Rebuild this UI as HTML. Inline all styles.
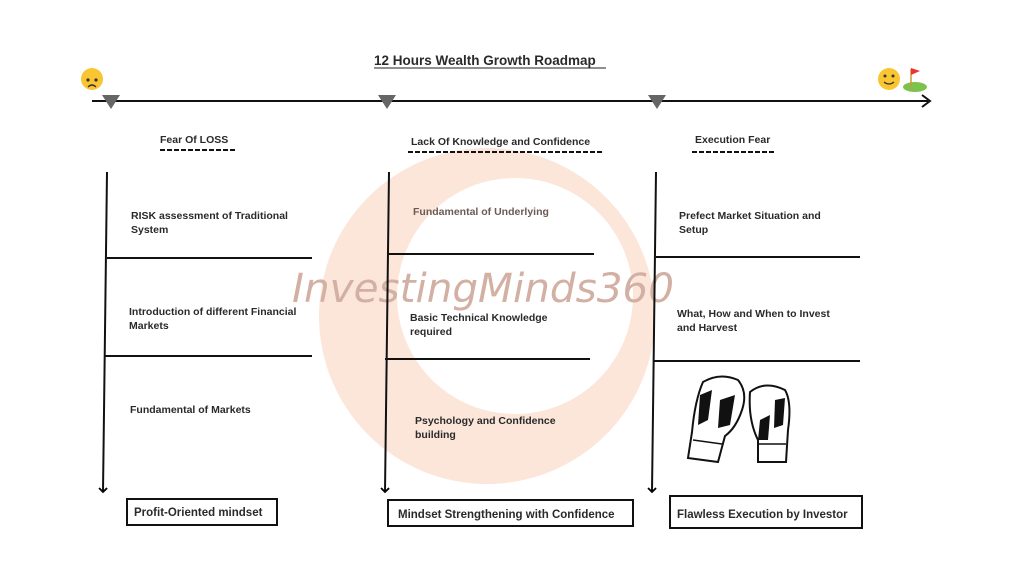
<!DOCTYPE html>
<html><head><meta charset="utf-8"><style>
body{margin:0;background:#fff;}
svg text{font-family:"Liberation Sans","DejaVu Sans",sans-serif;font-weight:bold;fill:#2a2a2a;font-size:10.5px;}
</style></head><body>
<svg width="1024" height="576" viewBox="0 0 1024 576" xmlns="http://www.w3.org/2000/svg">
<defs><marker id="ah" markerWidth="10" markerHeight="10" refX="5" refY="5" orient="auto" markerUnits="userSpaceOnUse"><path d="M1,1 L5,5 L1,9" fill="none" stroke="#000" stroke-width="1.8"/></marker></defs>
<!-- watermark -->
<circle cx="487" cy="316" r="168" fill="#fbe6d9"/>
<circle cx="515" cy="296" r="118" fill="#fff"/>
<text x="292" y="302" textLength="382" lengthAdjust="spacingAndGlyphs" style="font-family:'DejaVu Sans',sans-serif;font-style:italic;font-weight:normal;font-size:40px;fill:#d2b0a3">InvestingMinds360</text>
<!-- title -->
<text x="374" y="65" style="font-size:13.5px">12 Hours Wealth Growth Roadmap</text>
<line x1="374" y1="68" x2="606" y2="68" stroke="#222" stroke-width="1"/>
<!-- timeline -->
<line x1="92" y1="101" x2="928" y2="101" stroke="#111" stroke-width="2"/>
<path d="M922,95 L930,101 L922,107" fill="none" stroke="#111" stroke-width="2"/>
<path d="M102,95 L120,95 L111,109Z" fill="#666"/>
<path d="M378,95 L396,95 L387,109Z" fill="#666"/>
<path d="M648,95 L666,95 L657,109Z" fill="#666"/>
<!-- emojis -->
<circle cx="92" cy="79" r="11" fill="#f9c531"/>
<circle cx="88" cy="80" r="1.6" fill="#333"/><circle cx="96" cy="80" r="1.6" fill="#333"/>
<path d="M88,87 Q92,83 96,87" fill="none" stroke="#333" stroke-width="1.3"/>
<circle cx="889" cy="79" r="11" fill="#f9c531"/>
<circle cx="885" cy="76" r="1.5" fill="#333"/><circle cx="893" cy="76" r="1.5" fill="#333"/>
<path d="M884,82 Q889,86 894,82" fill="none" stroke="#333" stroke-width="1.3"/>
<ellipse cx="915" cy="87" rx="12" ry="5" fill="#7cc24d"/>
<line x1="911" y1="69" x2="911" y2="87" stroke="#c89a3a" stroke-width="1.5"/>
<path d="M911,68 L920,71 L911,75Z" fill="#e33"/>
<!-- headings -->
<text x="160" y="143">Fear Of LOSS</text>
<line x1="160" y1="150" x2="235" y2="150" stroke="#111" stroke-width="2" stroke-dasharray="5,2"/>
<text x="411" y="145">Lack Of Knowledge and Confidence</text>
<line x1="408" y1="152" x2="602" y2="152" stroke="#111" stroke-width="2" stroke-dasharray="5,2"/>
<text x="695" y="143">Execution Fear</text>
<line x1="692" y1="152" x2="775" y2="152" stroke="#111" stroke-width="2" stroke-dasharray="5,2"/>
<!-- column 1 -->
<line x1="107" y1="172" x2="103" y2="492" stroke="#111" stroke-width="2" marker-end="url(#ah)"/>
<line x1="107" y1="258" x2="312" y2="258" stroke="#111" stroke-width="2"/>
<line x1="105" y1="356" x2="312" y2="356" stroke="#111" stroke-width="2"/>
<text x="131" y="219">RISK assessment of Traditional</text>
<text x="131" y="233">System</text>
<text x="129" y="315">Introduction of different Financial</text>
<text x="129" y="329">Markets</text>
<text x="130" y="413">Fundamental of Markets</text>
<rect x="127" y="499" width="150" height="26" fill="#fff" stroke="#111" stroke-width="2"/>
<text x="134" y="516" style="font-size:11.5px">Profit-Oriented mindset</text>
<!-- column 2 -->
<line x1="389" y1="172" x2="385" y2="492" stroke="#111" stroke-width="2" marker-end="url(#ah)"/>
<line x1="389" y1="254" x2="594" y2="254" stroke="#111" stroke-width="2"/>
<line x1="385" y1="359" x2="590" y2="359" stroke="#111" stroke-width="2"/>
<text x="413" y="215" style="fill:#6b5a55">Fundamental of Underlying</text>
<text x="410" y="321">Basic Technical Knowledge</text>
<text x="410" y="335">required</text>
<text x="415" y="424">Psychology and Confidence</text>
<text x="415" y="438">building</text>
<rect x="388" y="500" width="245" height="26" fill="#fff" stroke="#111" stroke-width="2"/>
<text x="398" y="518" style="font-size:11.5px">Mindset Strengthening with Confidence</text>
<!-- column 3 -->
<line x1="656" y1="172" x2="652" y2="492" stroke="#111" stroke-width="2" marker-end="url(#ah)"/>
<line x1="656" y1="257" x2="860" y2="257" stroke="#111" stroke-width="2"/>
<line x1="654" y1="361" x2="860" y2="361" stroke="#111" stroke-width="2"/>
<text x="679" y="219">Prefect Market Situation and</text>
<text x="679" y="233">Setup</text>
<text x="677" y="317">What, How and When to Invest</text>
<text x="677" y="331">and Harvest</text>
<rect x="670" y="496" width="192" height="32" fill="#fff" stroke="#111" stroke-width="2"/>
<text x="677" y="518" style="font-size:11.5px">Flawless Execution by Investor</text>
<!-- gloves -->
<g stroke="#111" stroke-width="2" fill="#fff">
<path d="M703,382 Q720,372 738,380 Q748,392 742,410 Q736,428 725,436 L718,462 L688,458 L692,432 Q695,400 703,382Z"/>
<path d="M750,392 Q765,380 785,390 Q792,402 788,430 L786,462 L758,462 L758,440 Q748,420 750,392Z"/>
</g>
<g fill="#111"><path d="M700,395 L712,390 L708,420 L698,425Z"/><path d="M720,400 L735,395 L730,425 L718,428Z"/><path d="M760,420 L770,415 L768,440 L758,440Z"/><path d="M775,400 L785,398 L783,425 L774,428Z"/></g>
<line x1="693" y1="440" x2="722" y2="444" stroke="#111" stroke-width="1.5"/>
<line x1="758" y1="444" x2="786" y2="444" stroke="#111" stroke-width="1.5"/>
</svg>
</body></html>
